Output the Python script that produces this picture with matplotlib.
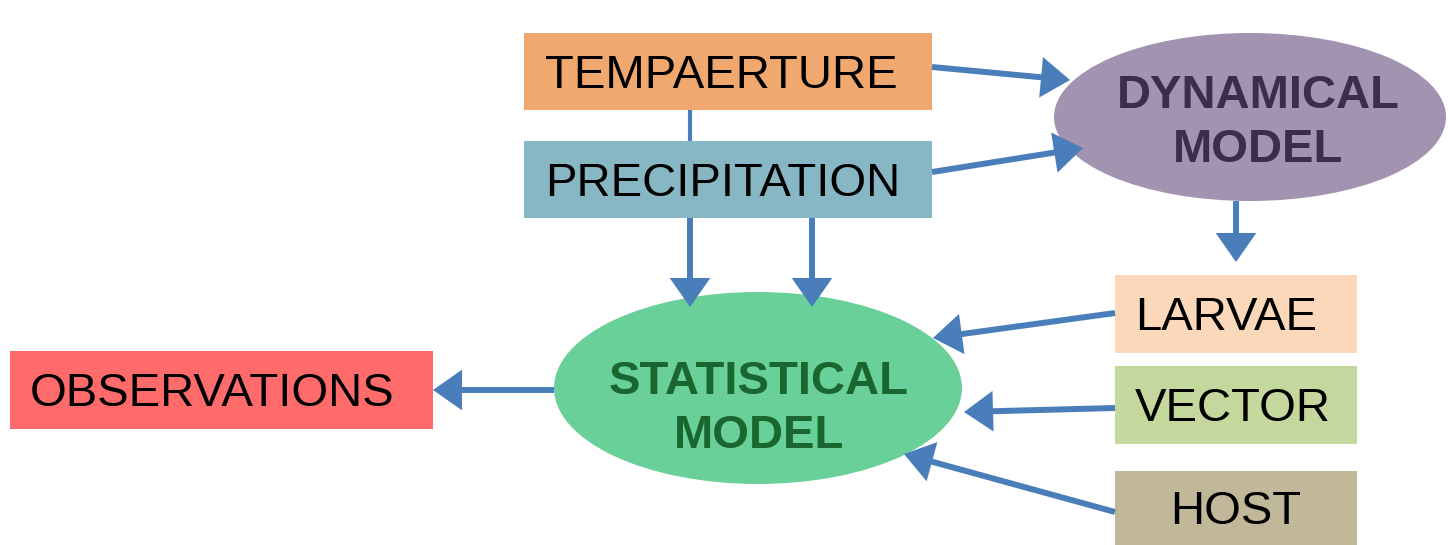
import matplotlib
matplotlib.use("Agg")
import matplotlib.pyplot as plt
from matplotlib.patches import Rectangle, Ellipse, FancyArrowPatch

# node labels
box_labels = ["TEMPAERTURE", "PRECIPITATION", "LARVAE", "VECTOR", "HOST", "OBSERVATIONS"]
ellipse_labels = ["DYNAMICAL\nMODEL", "STATISTICAL\nMODEL"]

# layout (pixel space, y downwards)
box_rects = [(524, 33, 408, 77), (524, 141, 408, 77), (1115, 275, 242, 78),
             (1115, 366, 242, 78), (1115, 471, 242, 75), (10, 351, 423, 78)]
box_colors = ["#F0A86E", "#87B7C5", "#FCD8BA", "#C4D79C", "#C0B899", "#FF6B6B"]
box_text_x = [545, 545, 1135, 1135, 1236, 30]
box_text_ha = ["left", "left", "left", "left", "center", "left"]

ell_geom = [(1250, 117, 392, 168), (758, 388, 408, 192)]
ell_colors = ["#A294B0", "#69D099"]
ell_text_colors = ["#3B2D4B", "#19672F"]
ell_text_xy = [(1258, 123), (759, 409)]

arrows = [((932, 67), (1070, 80)), ((932, 172), (1083, 148)),
          ((690, 218), (690, 307)), ((812, 218), (812, 307)),
          ((1236, 201), (1236, 262)), ((1115, 313), (933, 338)),
          ((1115, 408), (964, 412)), ((1115, 512), (904, 454)),
          ((554, 390), (433, 390))]
link_line = ((690, 110), (690, 141))

ARROW_C = "#4A7EBB"

fig = plt.figure(figsize=(14.48, 5.45), dpi=100)
ax = fig.add_axes([0, 0, 1, 1])
ax.set_xlim(0, 1448)
ax.set_ylim(545, 0)
ax.axis("off")

for lab, (x, y, w, h), c, tx, ha in zip(box_labels, box_rects, box_colors, box_text_x, box_text_ha):
    ax.add_patch(Rectangle((x, y), w, h, facecolor=c, edgecolor="none", zorder=1))
    ax.text(tx, y + h / 2 + 4, lab, ha=ha, va="center", fontsize=34,
            family="Liberation Sans", color="black", zorder=4)

for lab, (cx, cy, w, h), c, tc, (tx, ty) in zip(ellipse_labels, ell_geom, ell_colors,
                                                ell_text_colors, ell_text_xy):
    ax.add_patch(Ellipse((cx, cy), w, h, facecolor=c, edgecolor="none", zorder=1))
    ax.text(tx, ty, lab, ha="center", va="center", fontsize=34, fontweight="bold",
            family="Liberation Sans", color=tc, linespacing=1.3, zorder=4)

(x0, y0), (x1, y1) = link_line
ax.plot([x0, x1], [y0, y1], color=ARROW_C, lw=3, solid_capstyle="butt", zorder=2)

for start, end in arrows:
    ax.add_patch(FancyArrowPatch(start, end,
                                 arrowstyle="-|>,head_length=15,head_width=10.5",
                                 mutation_scale=1, shrinkA=0, shrinkB=0,
                                 color=ARROW_C, lw=4.3, joinstyle="miter",
                                 capstyle="butt", zorder=3))

fig.savefig("out.png", dpi=100)
